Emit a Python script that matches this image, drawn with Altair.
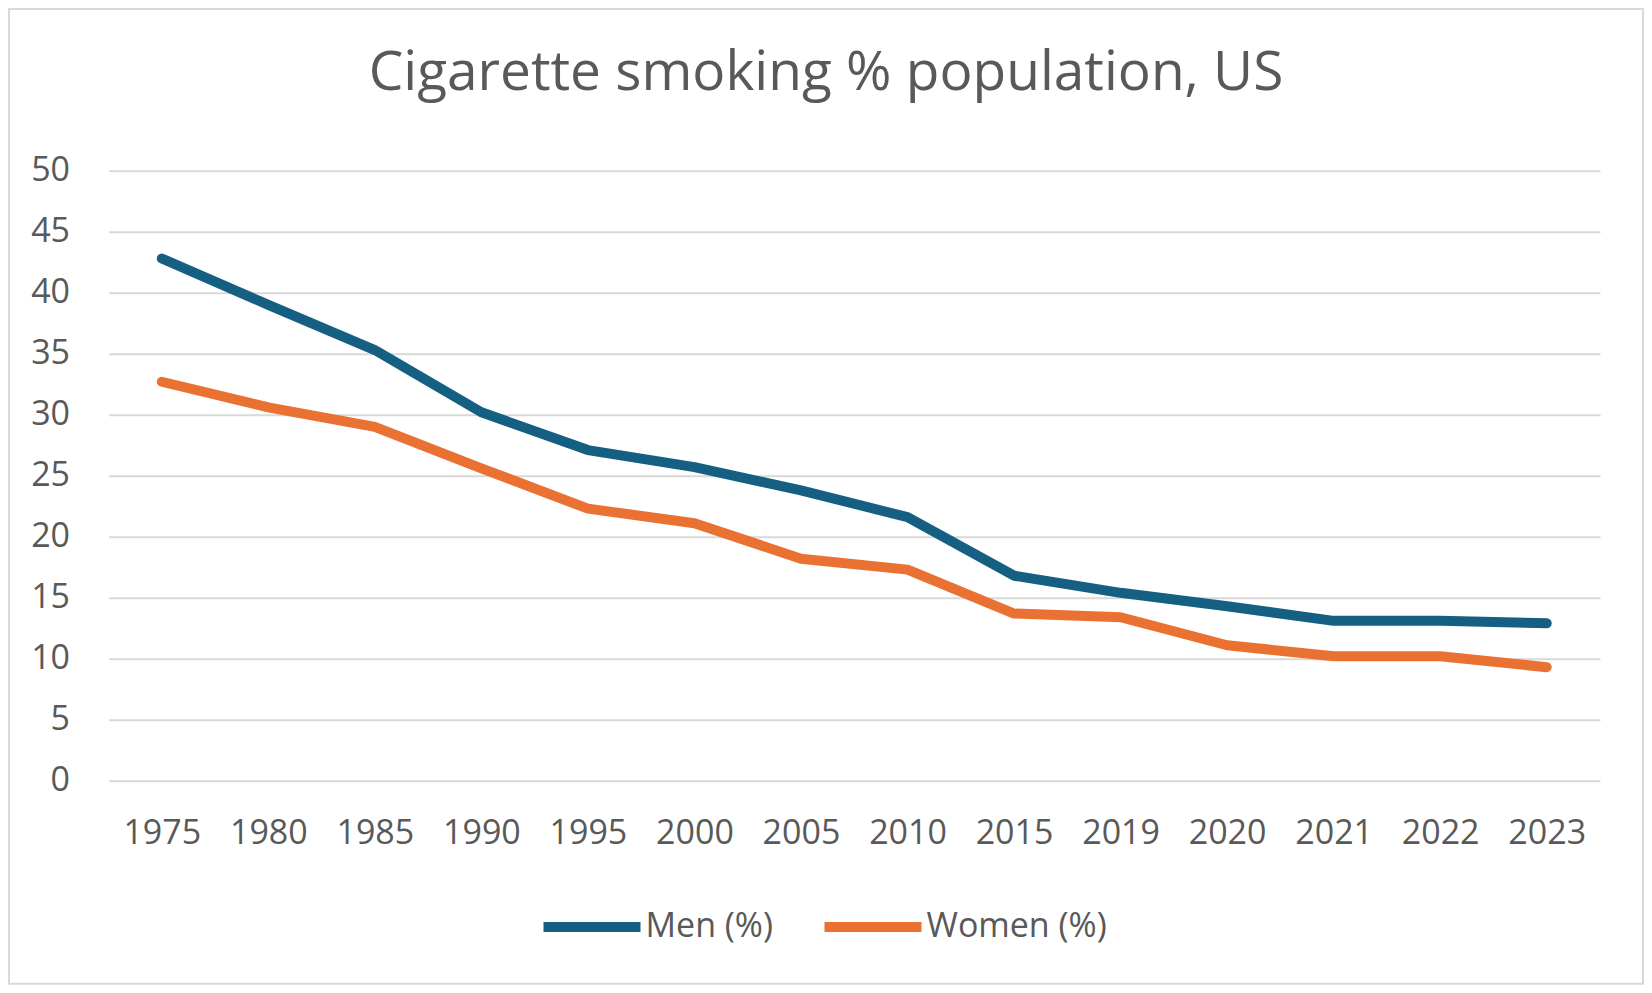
import altair as alt
import pandas as pd

years = ["1975", "1980", "1985", "1990", "1995", "2000", "2005", "2010",
         "2015", "2019", "2020", "2021", "2022", "2023"]
men = [42.8, 39.0, 35.3, 30.2, 27.1, 25.7, 23.8, 21.6, 16.8, 15.4, 14.3, 13.1, 13.1, 12.9]
women = [32.7, 30.6, 29.0, 25.6, 22.3, 21.1, 18.2, 17.3, 13.7, 13.4, 11.1, 10.2, 10.2, 9.3]
series = ["Men (%)", "Women (%)"]
colors = ["#156082", "#E97132"]
y_ticks = [0, 5, 10, 15, 20, 25, 30, 35, 40, 45, 50]
title_text = "Cigarette smoking % population, US"

rows = []
for i, yr in enumerate(years):
    rows.append({"year": yr, "series": series[0], "value": men[i], "order": i})
    rows.append({"year": yr, "series": series[1], "value": women[i], "order": i})
df = pd.DataFrame(rows)

FONT = "Open Sans"
TXT = "#595959"
GRID = "#D9D9D9"

W, H = 1491.5, 610
PL, PT, PR, PB = 100.5, 162.7, 44, 204

lines = alt.Chart(df).mark_line(strokeWidth=10, strokeCap="round", strokeJoin="round").encode(
    x=alt.X("year:O", sort=years, scale=alt.Scale(type="point", padding=0.5),
            axis=alt.Axis(title=None, labelAngle=0, ticks=False, domain=False, grid=False,
                          labelFontSize=34, labelColor=TXT, labelFont=FONT, labelPadding=36)),
    y=alt.Y("value:Q", scale=alt.Scale(domain=[0, 50], nice=False),
            axis=alt.Axis(title=None, values=y_ticks, ticks=False, domain=False,
                          gridColor=GRID, gridWidth=2, labelFontSize=34, labelColor=TXT,
                          labelFont=FONT, labelPadding=39)),
    color=alt.Color("series:N", scale=alt.Scale(domain=series, range=colors),
                    legend=alt.Legend(title=None, orient="none", direction="horizontal",
                                      legendX=430, legendY=702.5,
                                      symbolType="stroke", symbolStrokeWidth=10,
                                      symbolSize=9409, labelFontSize=34, labelColor=TXT,
                                      labelFont=FONT, labelOffset=0, columnPadding=31,
                                      labelLimit=500)),
    order="order:Q",
)

frame = alt.Chart(pd.DataFrame({"a": [0]})).mark_rect(fill="transparent", stroke=GRID, strokeWidth=2).encode(
    x=alt.value(-PL + 1), x2=alt.value(W + PR - 1),
    y=alt.value(-PT + 1), y2=alt.value(H + PB - 1),
)

title = alt.Chart(pd.DataFrame({"t": [title_text]})).mark_text(
    font=FONT, fontSize=55, color=TXT, align="center", baseline="alphabetic"
).encode(text="t:N", x=alt.value(717.5), y=alt.value(-80.7))

chart = alt.layer(frame, title, lines).properties(
    width=W, height=H,
    background="white",
    autosize=alt.AutoSizeParams(type="none"),
    padding={"left": PL, "top": PT, "right": PR, "bottom": PB},
).configure_view(stroke="transparent", strokeWidth=0)

chart.save("out.html", embed_options={"renderer": "svg", "actions": False})
